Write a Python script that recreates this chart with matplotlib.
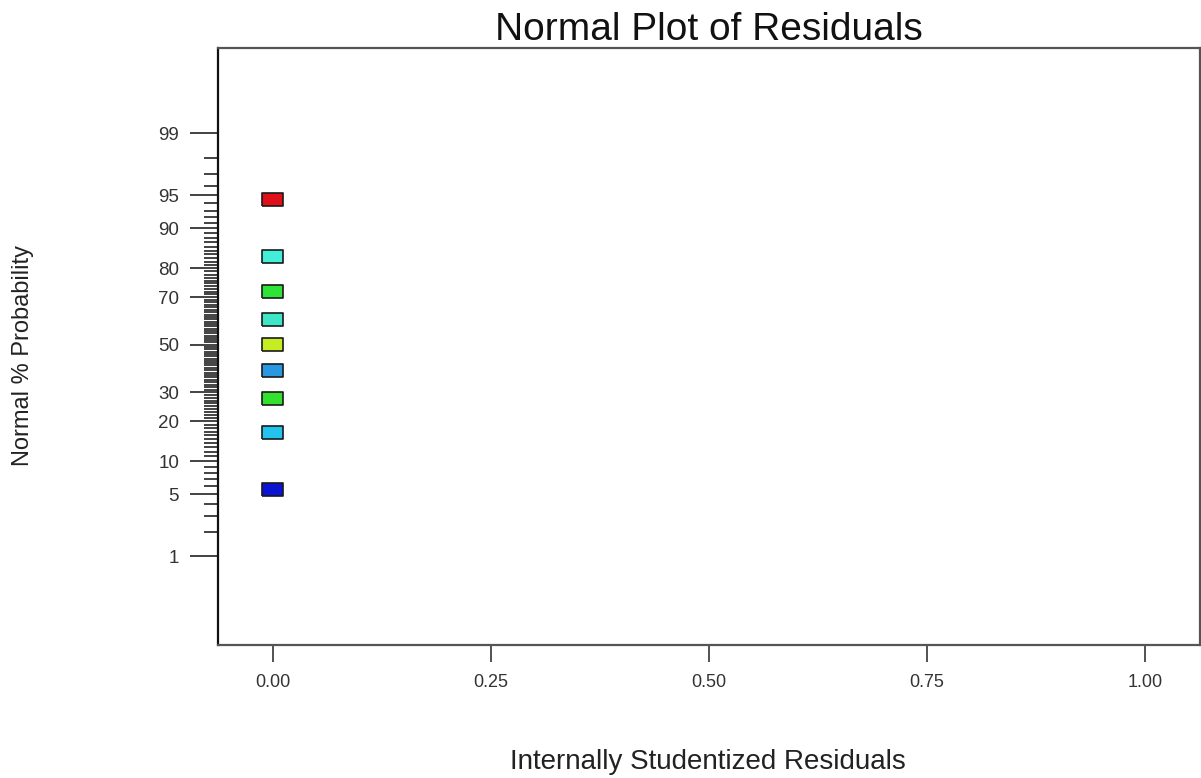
from statistics import NormalDist

import matplotlib
matplotlib.use("Agg")
import matplotlib.pyplot as plt

# -----------------------------
# Data
# -----------------------------
residuals = [0.0, 0.0, 0.0, 0.0, 0.0, 0.0, 0.0, 0.0, 0.0]
probability = [5.56, 16.67, 27.78, 38.89, 50.0, 61.11, 72.22, 83.33, 94.44]
point_colors = ["#0a14d2", "#22c4ee", "#33e02e", "#2898e2", "#c4ee22",
                "#3ee6c8", "#2ee436", "#42eed8", "#e0101a"]

major_pct = [1, 5, 10, 20, 30, 50, 70, 80, 90, 95, 99]
minor_pct = list(range(1, 100))
x_ticks = [0.0, 0.25, 0.5, 0.75, 1.0]
x_labels = ["0.00", "0.25", "0.50", "0.75", "1.00"]

nd = NormalDist()


def to_z(p):
    return nd.inv_cdf(p / 100.0)


plt.rcParams["font.family"] = ["Liberation Sans", "DejaVu Sans"]

# -----------------------------
# Plot
# -----------------------------
fig = plt.figure(figsize=(12.01, 7.78), dpi=100)
ax = fig.add_axes([0.1815, 0.171, 0.8175, 0.767])

rect = [(-1, -0.6), (1, -0.6), (1, 0.6), (-1, 0.6), (-1, -0.6)]
ax.scatter(residuals, [to_z(p) for p in probability], marker=rect, s=15.5 ** 2,
           c=point_colors, edgecolors="#1a1a1a", linewidths=1.2, zorder=3)

ax.set_xlim(-0.0625, 1.0625)
ax.set_ylim(-3.30, 3.26)

ax.set_xticks(x_ticks)
ax.set_xticklabels(x_labels)
ax.set_yticks([to_z(p) for p in major_pct])
ax.set_yticklabels([str(p) for p in major_pct])
ax.set_yticks([to_z(p) for p in minor_pct if p not in major_pct], minor=True)

ax.tick_params(axis="x", length=12, width=1.3, color="#444444", pad=9,
               labelsize=13, labelcolor="#333333")
ax.tick_params(axis="y", which="major", length=20, width=1.2, color="#222222",
               pad=8, labelsize=13.5, labelcolor="#333333")
ax.tick_params(axis="y", which="minor", length=10, width=1.2, color="#222222")

for side, spine in ax.spines.items():
    spine.set_linewidth(1.6)
    spine.set_color("#111111" if side == "left" else "#555555")

ax.set_title("Normal Plot of Residuals", fontsize=28, pad=4, color="#111111")
fig.text(708 / 1201, 1 - 762 / 778, "Internally Studentized Residuals",
         fontsize=20, ha="center", va="center", color="#222222")
fig.text(23 / 1201, 1 - 355 / 778, "Normal % Probability", rotation=90,
         fontsize=17, ha="center", va="center", color="#222222")

fig.savefig("out.png", dpi=100)
plt.close(fig)
